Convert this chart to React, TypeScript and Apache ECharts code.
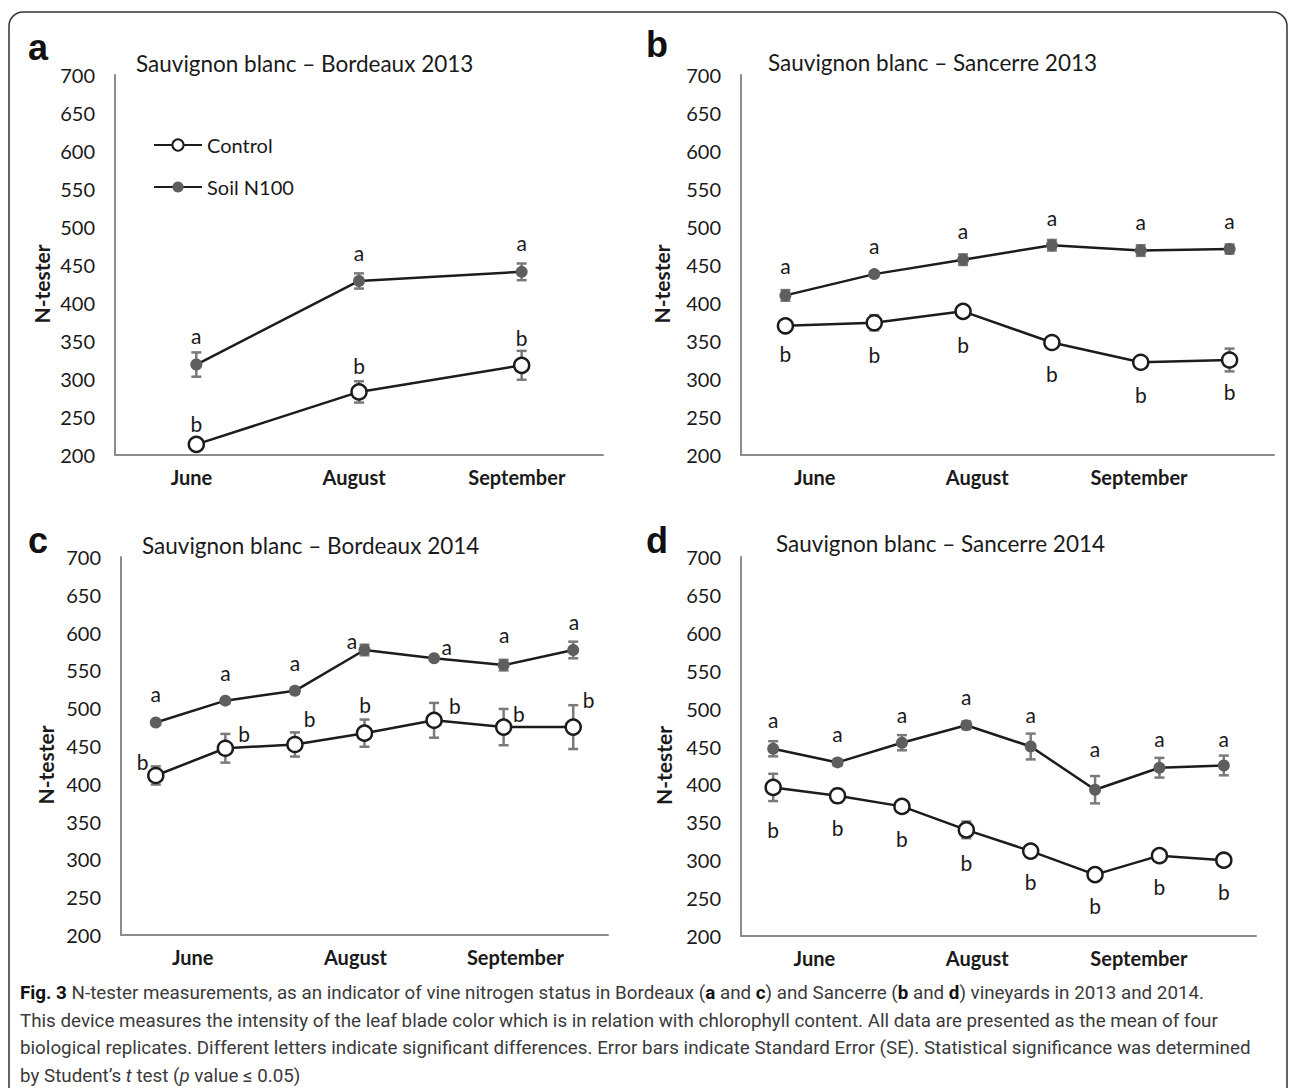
import React, { useEffect, useRef } from "react";
import * as echarts from "echarts";

// ---------- Data ----------
const monthLabels = ["June", "August", "September"];
const yTicks = { min: 200, max: 700, step: 50 };

// Panel a: Bordeaux 2013 (3 dates)
const aSoil = [319, 429, 441];
const aSoilErr = [16, 10, 11];
const aCtrl = [214, 283, 318];
const aCtrlErr = [4, 14, 19];
const aLetterAY = [357, 467, 479];
const aLetterBY = [241, 318, 355];
const aLetterAX = [0.5, 1.5, 2.5];
const aLetterBX = [0.5, 1.5, 2.5];
const aMonthPos = [0.47, 1.47, 2.47];

// Panel b: Sancerre 2013 (6 dates)
const bSoil = [410, 438, 457, 476, 469, 471];
const bSoilErr = [7, 3, 7, 7, 7, 6];
const bCtrl = [370, 374, 389, 348, 322, 325];
const bCtrlErr = [6, 10, 3, 5, 3, 15];
const bLetterAY = [449, 476, 496, 513, 507, 509];
const bLetterBY = [333, 332, 346, 307, 280, 283];
const bLetterAX = [0.5, 1.5, 2.5, 3.5, 4.5, 5.5];
const bLetterBX = [0.5, 1.5, 2.5, 3.5, 4.5, 5.5];
const bMonthPos = [0.83, 2.66, 4.48];

// Panel c: Bordeaux 2014 (7 dates)
const cSoil = [481, 510, 523, 577, 566, 557, 577];
const cSoilErr = [3, 3, 4, 7, 3, 7, 11];
const cCtrl = [411, 447, 452, 467, 484, 475, 475];
const cCtrlErr = [12, 19, 16, 18, 23, 24, 29];
const cLetterAY = [519, 547, 560, 589, 581, 597, 615];
const cLetterBY = [429, 467, 486, 505, 503, 493, 512];
const cLetterAX = [0.5, 1.5, 2.5, 3.32, 4.68, 5.51, 6.51];
const cLetterBX = [0.31, 1.77, 2.71, 3.51, 4.8, 5.72, 6.72];
const cMonthPos = [1.03, 3.37, 5.67];

// Panel d: Sancerre 2014 (8 dates)
const dSoil = [447, 429, 455, 478, 450, 393, 422, 425];
const dSoilErr = [10, 4, 10, 5, 17, 18, 13, 13];
const dCtrl = [396, 385, 371, 340, 312, 281, 306, 300];
const dCtrlErr = [18, 9, 3, 11, 3, 5, 6, 3];
const dLetterAY = [485, 467, 492, 516, 492, 447, 460, 461];
const dLetterBY = [341, 343, 329, 297, 272, 240, 265, 259];
const dLetterAX = [0.5, 1.5, 2.5, 3.5, 4.5, 5.5, 6.5, 7.5];
const dLetterBX = [0.5, 1.5, 2.5, 3.5, 4.5, 5.5, 6.5, 7.5];
const dMonthPos = [1.14, 3.67, 6.18];

const titles = [
  "Sauvignon blanc \u2013 Bordeaux 2013",
  "Sauvignon blanc \u2013 Sancerre 2013",
  "Sauvignon blanc \u2013 Bordeaux 2014",
  "Sauvignon blanc \u2013 Sancerre 2014",
];
const panelLetters = ["a", "b", "c", "d"];
const seriesNames = ["Control", "Soil N100"];
const captionLines = [
  "{b|Fig. 3} N-tester measurements, as an indicator of vine nitrogen status in Bordeaux ({b|a} and {b|c}) and Sancerre ({b|b} and {b|d}) vineyards in 2013 and 2014.",
  "This device measures the intensity of the leaf blade color which is in relation with chlorophyll content. All data are presented as the mean of four",
  "biological replicates. Different letters indicate significant differences. Error bars indicate Standard Error (SE). Statistical significance was determined",
  "by Student\u2019s {i|t} test ({i|p} value \u2264 0.05)",
];

// ---------- Layout (positions / styles) ----------
const FONT = "Lato, 'Open Sans', sans-serif";
const CAP_FONT = "Roboto, sans-serif";
const CAP_SIZE = 18.8;
const panels = [
  { soil: aSoil, soilErr: aSoilErr, ctrl: aCtrl, ctrlErr: aCtrlErr, la: [aLetterAX, aLetterAY], lb: [aLetterBX, aLetterBY], months: aMonthPos,
    grid: { left: 115, top: 75, width: 488, height: 380 }, title: [136, 63], letter: [28, 47], nameGap: 75 },
  { soil: bSoil, soilErr: bSoilErr, ctrl: bCtrl, ctrlErr: bCtrlErr, la: [bLetterAX, bLetterAY], lb: [bLetterBX, bLetterBY], months: bMonthPos,
    grid: { left: 741, top: 75, width: 533, height: 380 }, title: [768, 62], letter: [646, 44], nameGap: 81 },
  { soil: cSoil, soilErr: cSoilErr, ctrl: cCtrl, ctrlErr: cCtrlErr, la: [cLetterAX, cLetterAY], lb: [cLetterBX, cLetterBY], months: cMonthPos,
    grid: { left: 121, top: 557, width: 487, height: 378 }, title: [142, 545], letter: [28, 540], nameGap: 77 },
  { soil: dSoil, soilErr: dSoilErr, ctrl: dCtrl, ctrlErr: dCtrlErr, la: [dLetterAX, dLetterAY], lb: [dLetterBX, dLetterBY], months: dMonthPos,
    grid: { left: 741, top: 557, width: 515, height: 379 }, title: [776, 543], letter: [646, 540], nameGap: 79 },
];

const AXIS_COLOR = "#8c8c8c";
const LINE_COLOR = "#1c1c1c";
const SOIL_COLOR = "#5e5e5e";
const ERR_COLOR = "#7a7a7a";
const TEXT_COLOR = "#1a1a1a";

function errorBarRender(params: any, api: any) {
  const x = api.value(0);
  const y = api.value(1);
  const e = api.value(2);
  const top = api.coord([x, y + e]);
  const bot = api.coord([x, y - e]);
  const cap = 5;
  const style = { stroke: ERR_COLOR, lineWidth: 2.5 };
  return {
    type: "group",
    children: [
      { type: "line", shape: { x1: top[0], y1: top[1], x2: bot[0], y2: bot[1] }, style },
      { type: "line", shape: { x1: top[0] - cap, y1: top[1], x2: top[0] + cap, y2: top[1] }, style },
      { type: "line", shape: { x1: bot[0] - cap, y1: bot[1], x2: bot[0] + cap, y2: bot[1] }, style },
    ],
  };
}

function buildOption() {
  const grid: any[] = [];
  const xAxis: any[] = [];
  const yAxis: any[] = [];
  const series: any[] = [];
  const graphic: any[] = [];

  panels.forEach((p, i) => {
    const n = p.soil.length;
    grid.push({ ...p.grid, containLabel: false });
    xAxis.push({
      type: "value",
      gridIndex: i,
      min: 0,
      max: n,
      axisLine: { show: true, onZero: false, lineStyle: { color: AXIS_COLOR, width: 2 } },
      axisTick: { show: false },
      splitLine: { show: false },
      axisLabel: {
        customValues: p.months,
        formatter: (v: number) => {
          let best = 0;
          p.months.forEach((m, k) => {
            if (Math.abs(m - v) < Math.abs(p.months[best] - v)) best = k;
          });
          return monthLabels[best];
        },
        fontFamily: FONT,
        fontWeight: "bold",
        fontSize: 20,
        color: TEXT_COLOR,
        margin: 12,
      },
    });
    yAxis.push({
      type: "value",
      gridIndex: i,
      min: yTicks.min,
      max: yTicks.max,
      interval: yTicks.step,
      name: "N-tester",
      nameLocation: "middle",
      nameRotate: 90,
      nameGap: p.nameGap - 12,
      nameTextStyle: { fontFamily: FONT, fontWeight: "bold", fontSize: 21, color: TEXT_COLOR, padding: [0, 38, 0, 0] },
      axisLine: { show: true, lineStyle: { color: AXIS_COLOR, width: 2 } },
      axisTick: { show: false },
      splitLine: { show: false },
      axisLabel: { fontFamily: FONT, fontSize: 20, color: TEXT_COLOR, margin: 20 },
    });

    const xs = p.soil.map((_, k) => k + 0.5);
    series.push({
      type: "custom",
      xAxisIndex: i,
      yAxisIndex: i,
      renderItem: errorBarRender,
      z: 1,
      silent: true,
      data: p.soil.map((v, k) => [xs[k], v, p.soilErr[k]]),
      encode: { x: 0, y: 1 },
    });
    series.push({
      type: "custom",
      xAxisIndex: i,
      yAxisIndex: i,
      renderItem: errorBarRender,
      z: 1,
      silent: true,
      data: p.ctrl.map((v, k) => [xs[k], v, p.ctrlErr[k]]),
      encode: { x: 0, y: 1 },
    });
    series.push({
      name: seriesNames[1],
      type: "line",
      xAxisIndex: i,
      yAxisIndex: i,
      z: 3,
      symbol: "circle",
      symbolSize: 12,
      itemStyle: { color: SOIL_COLOR, borderColor: SOIL_COLOR, borderWidth: 0 },
      lineStyle: { color: LINE_COLOR, width: 2.5 },
      data: p.soil.map((v, k) => [xs[k], v]),
    });
    series.push({
      name: seriesNames[0],
      type: "line",
      xAxisIndex: i,
      yAxisIndex: i,
      z: 3,
      symbol: "circle",
      symbolSize: 15,
      itemStyle: { color: "#ffffff", borderColor: LINE_COLOR, borderWidth: 2.5 },
      lineStyle: { color: LINE_COLOR, width: 2.5 },
      data: p.ctrl.map((v, k) => [xs[k], v]),
    });
    const letterSeries = (pos: number[][], txt: string) => ({
      type: "scatter",
      xAxisIndex: i,
      yAxisIndex: i,
      symbolSize: 0,
      silent: true,
      z: 4,
      itemStyle: { opacity: 1 },
      label: {
        show: true,
        position: "inside",
        formatter: txt,
        fontFamily: FONT,
        fontSize: 21,
        color: TEXT_COLOR,
        opacity: 1,
      },
      data: pos[0].map((x, k) => [x, pos[1][k]]),
    });
    series.push(letterSeries(p.la, "a"));
    series.push(letterSeries(p.lb, "b"));

    graphic.push({
      type: "text",
      x: p.title[0],
      y: p.title[1],
      style: { text: titles[i], font: `22.5px ${FONT}`, fill: TEXT_COLOR, textVerticalAlign: "middle" },
    });
    graphic.push({
      type: "text",
      x: p.letter[0],
      y: p.letter[1],
      style: { text: panelLetters[i], font: `bold 36px 'Liberation Sans', Arial, sans-serif`, fill: "#111", textVerticalAlign: "middle" },
    });
  });

  // frame
  graphic.unshift({
    type: "rect",
    shape: { x: 9, y: 12, width: 1278, height: 1110, r: 14 },
    style: { fill: "none", stroke: "#333", lineWidth: 1.5 },
    z: -10,
  });

  const capY = [993, 1021, 1048, 1076];
  captionLines.forEach((t, k) => {
    graphic.push({
      type: "text",
      x: 20,
      y: capY[k],
      style: {
        text: t,
        font: `${CAP_SIZE}px ${CAP_FONT}`,
        fill: "#3a3a3a",
        textVerticalAlign: "middle",
        rich: {
          b: { fontWeight: "bold", fill: "#111", fontSize: CAP_SIZE, fontFamily: CAP_FONT },
          i: { fontStyle: "italic", fill: "#3a3a3a", fontSize: CAP_SIZE, fontFamily: CAP_FONT },
        },
      },
    });
  });

  return {
    animation: false,
    backgroundColor: "#ffffff",
    textStyle: { fontFamily: FONT },
    legend: {
      data: seriesNames,
      left: 153,
      top: 135,
      padding: 0,
      orient: "vertical",
      itemWidth: 48,
      itemHeight: 14,
      itemGap: 22,
      textStyle: { fontFamily: FONT, fontSize: 20, color: TEXT_COLOR },
      selectedMode: false,
    },
    grid,
    xAxis,
    yAxis,
    series,
    graphic,
  };
}

export default function App() {
  const ref = useRef<HTMLDivElement>(null);
  useEffect(() => {
    if (!ref.current) return;
    const chart = echarts.init(ref.current, null, { renderer: "svg" });
    chart.setOption(buildOption() as any);
    return () => chart.dispose();
  }, []);
  return (
    <div
      ref={ref}
      style={{ position: "absolute", left: 0, top: 0, width: 1292, height: 1088, background: "#fff" }}
    />
  );
}
